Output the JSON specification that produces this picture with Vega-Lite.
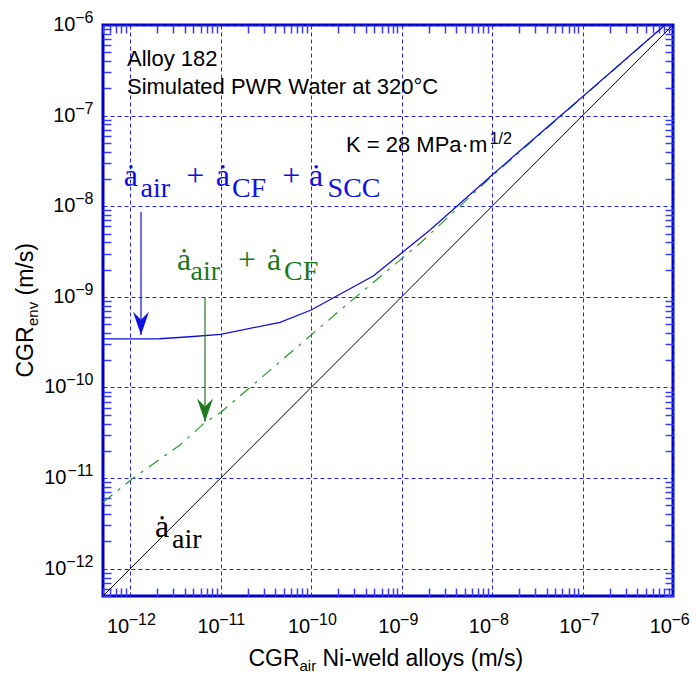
{
  "$schema": "https://vega.github.io/schema/vega-lite/v6.json",
  "width": 570,
  "height": 571,
  "autosize": {"type": "none"},
  "padding": {"left": 103, "top": 25, "right": 23, "bottom": 79},
  "background": "white",
  "config": {
    "view": {"stroke": "#0000cc", "strokeWidth": 3},
    "font": "Liberation Sans",
    "axis": {"labelFont": "Liberation Sans", "titleFont": "Liberation Sans", "labelColor": "black", "titleColor": "black", "titleFontWeight": "normal", "labelOverlap": false, "labelFlush": false, "labelBound": false}
  },
  "datasets": {
    "curves": [
      {"series": "air", "x": 5e-13, "y": 5e-13},
      {"series": "air", "x": 1e-6, "y": 1e-6},
      {"series": "air+CF", "x": 5e-13, "y": 5.4e-12},
      {"series": "air+CF", "x": 1.07e-12, "y": 9.95e-12},
      {"series": "air+CF", "x": 3.55e-12, "y": 2.32e-11},
      {"series": "air+CF", "x": 6.7e-12, "y": 4.1e-11},
      {"series": "air+CF", "x": 1e-11, "y": 5.3e-11},
      {"series": "air+CF", "x": 1e-10, "y": 3.79e-10},
      {"series": "air+CF", "x": 2.47e-10, "y": 8.2e-10},
      {"series": "air+CF", "x": 1.6e-9, "y": 3.9e-9},
      {"series": "air+CF", "x": 1e-8, "y": 2.15e-8},
      {"series": "air+CF", "x": 1e-7, "y": 1.6e-7},
      {"series": "air+CF", "x": 8.16e-7, "y": 1e-6},
      {"series": "air+CF+SCC", "x": 5e-13, "y": 3.43e-10},
      {"series": "air+CF+SCC", "x": 2.1e-12, "y": 3.45e-10},
      {"series": "air+CF+SCC", "x": 4.58e-12, "y": 3.63e-10},
      {"series": "air+CF+SCC", "x": 1e-11, "y": 3.86e-10},
      {"series": "air+CF+SCC", "x": 4.53e-11, "y": 5.24e-10},
      {"series": "air+CF+SCC", "x": 1e-10, "y": 7.16e-10},
      {"series": "air+CF+SCC", "x": 4.86e-10, "y": 1.7e-9},
      {"series": "air+CF+SCC", "x": 2.06e-9, "y": 5.47e-9},
      {"series": "air+CF+SCC", "x": 1e-8, "y": 2.21e-8},
      {"series": "air+CF+SCC", "x": 1e-7, "y": 1.62e-7},
      {"series": "air+CF+SCC", "x": 8.16e-7, "y": 1e-6}
    ],
    "arrows": [
      {"series": "air+CF+SCC", "x": 1.315e-12, "ytop": 8.7e-9, "ytip": 3.8e-10},
      {"series": "air+CF", "x": 6.71e-12, "ytop": 9.8e-10, "ytip": 4.19e-11}
    ],
    "eq": [
      {"series": "air+CF+SCC", "part": "main", "text": "ȧ", "x": 8.5e-13, "y": 1.69e-8},
      {"series": "air+CF+SCC", "part": "sub", "text": "air", "x": 1.3e-12, "y": 1.27e-8},
      {"series": "air+CF+SCC", "part": "main", "text": "+", "x": 4.15e-12, "y": 1.69e-8},
      {"series": "air+CF+SCC", "part": "main", "text": "ȧ", "x": 8.8e-12, "y": 1.69e-8},
      {"series": "air+CF+SCC", "part": "sub", "text": "CF", "x": 1.33e-11, "y": 1.27e-8},
      {"series": "air+CF+SCC", "part": "main", "text": "+", "x": 4.8e-11, "y": 1.69e-8},
      {"series": "air+CF+SCC", "part": "main", "text": "ȧ", "x": 9.45e-11, "y": 1.69e-8},
      {"series": "air+CF+SCC", "part": "sub", "text": "SCC", "x": 1.52e-10, "y": 1.27e-8},
      {"series": "air+CF", "part": "main", "text": "ȧ", "x": 3.28e-12, "y": 1.98e-9},
      {"series": "air+CF", "part": "sub", "text": "air", "x": 4.65e-12, "y": 1.52e-9},
      {"series": "air+CF", "part": "main", "text": "+", "x": 1.55e-11, "y": 1.98e-9},
      {"series": "air+CF", "part": "main", "text": "ȧ", "x": 3.25e-11, "y": 1.98e-9},
      {"series": "air+CF", "part": "sub", "text": "CF", "x": 5.02e-11, "y": 1.52e-9},
      {"series": "air", "part": "main", "text": "ȧ", "x": 1.88e-12, "y": 2.25e-12},
      {"series": "air", "part": "sub", "text": "air", "x": 2.9e-12, "y": 1.68e-12}
    ],
    "notes": [
      {"kind": "main", "text": "Alloy 182", "x": 9.2e-13, "y": 3.56e-7},
      {"kind": "main", "text": "Simulated PWR Water at 320°C", "x": 9.2e-13, "y": 1.73e-7},
      {"kind": "main", "text": "K = 28 MPa·m", "x": 2.43e-10, "y": 4.0e-8},
      {"kind": "sup", "text": "1/2", "x": 9.4e-9, "y": 4.86e-8}
    ]
  },
  "layer": [
    {
      "data": {"name": "curves"},
      "transform": [{"filter": "datum.series == 'air'"}],
      "mark": {"type": "line", "color": "black", "strokeWidth": 1, "clip": true},
      "encoding": {
        "x": {
          "field": "x", "type": "quantitative",
          "scale": {"type": "log", "domain": [5e-13, 1e-6], "nice": false},
          "axis": {
            "orient": "bottom",
            "values": [5e-13,6e-13,7e-13,8e-13,9e-13,1e-12,2e-12,3e-12,4e-12,5e-12,6e-12,7e-12,8e-12,9e-12,1e-11,2e-11,3e-11,4e-11,5e-11,6e-11,7e-11,8e-11,9e-11,1e-10,2e-10,3e-10,4e-10,5e-10,6e-10,7e-10,8e-10,9e-10,1e-9,2e-9,3e-9,4e-9,5e-9,6e-9,7e-9,8e-9,9e-9,1e-8,2e-8,3e-8,4e-8,5e-8,6e-8,7e-8,8e-8,9e-8,1e-7,2e-7,3e-7,4e-7,5e-7,6e-7,7e-7,8e-7,9e-7,1e-6],
            "domain": false,
            "grid": true,
            "gridColor": "#2222ff",
            "gridDash": [4, 3],
            "gridWidth": 1,
            "gridOpacity": {"condition": {"test": "abs(log(datum.value)/LN10 - round(log(datum.value)/LN10)) < 0.01", "value": 1}, "value": 0},
            "tickSize": -8,
            "tickColor": "#3c3cff",
            "tickWidth": 1.5,
            "tickOpacity": {"condition": {"test": "abs(log(datum.value)/LN10 - round(log(datum.value)/LN10)) < 0.01", "value": 0}, "value": 1},
            "labelExpr": "abs(log(datum.value)/LN10 - round(log(datum.value)/LN10)) < 0.01 ? '10' : ''",
            "labelFontSize": 20,
            "labelAlign": "right",
            "labelBaseline": "alphabetic",
            "labelOffset": -1.5,
            "labelPadding": 44,
            "title": "CGR",
            "titleFontSize": 23,
            "titleX": 145,
            "titleY": 69,
            "titleAlign": "left",
            "titleBaseline": "alphabetic",
            "titleAngle": 0
          }
        },
        "y": {
          "field": "y", "type": "quantitative",
          "scale": {"type": "log", "domain": [5e-13, 1e-6], "nice": false},
          "axis": {
            "orient": "left",
            "values": [5e-13,6e-13,7e-13,8e-13,9e-13,1e-12,2e-12,3e-12,4e-12,5e-12,6e-12,7e-12,8e-12,9e-12,1e-11,2e-11,3e-11,4e-11,5e-11,6e-11,7e-11,8e-11,9e-11,1e-10,2e-10,3e-10,4e-10,5e-10,6e-10,7e-10,8e-10,9e-10,1e-9,2e-9,3e-9,4e-9,5e-9,6e-9,7e-9,8e-9,9e-9,1e-8,2e-8,3e-8,4e-8,5e-8,6e-8,7e-8,8e-8,9e-8,1e-7,2e-7,3e-7,4e-7,5e-7,6e-7,7e-7,8e-7,9e-7,1e-6],
            "domain": false,
            "grid": true,
            "gridColor": "#2222ff",
            "gridDash": [4, 3],
            "gridWidth": 1,
            "gridOpacity": {"condition": {"test": "abs(log(datum.value)/LN10 - round(log(datum.value)/LN10)) < 0.01", "value": 1}, "value": 0},
            "tickSize": -8,
            "tickColor": "#3c3cff",
            "tickWidth": 1.5,
            "tickOpacity": {"condition": {"test": "abs(log(datum.value)/LN10 - round(log(datum.value)/LN10)) < 0.01", "value": 0}, "value": 1},
            "labelExpr": "abs(log(datum.value)/LN10 - round(log(datum.value)/LN10)) < 0.01 ? '10' : ''",
            "labelFontSize": 20,
            "labelAlign": "right",
            "labelBaseline": "alphabetic",
            "labelOffset": 5.5,
            "labelPadding": {"condition": {"test": "datum.value < 5e-10", "value": 45}, "value": 36},
            "title": "CGR",
            "titleFontSize": 23,
            "titleX": -71,
            "titleY": 352,
            "titleAlign": "left",
            "titleBaseline": "alphabetic",
            "titleAngle": 270
          }
        }
      }
    },
    {
      "data": {"name": "curves"},
      "transform": [{"filter": "datum.series == 'air+CF'"}],
      "mark": {"type": "line", "color": "#2a9a2a", "strokeWidth": 1.2, "strokeDash": [12, 7, 3, 7], "clip": true},
      "encoding": {
        "x": {
          "field": "x", "type": "quantitative",
          "scale": {"type": "log", "domain": [5e-13, 1e-6], "nice": false},
          "axis": {
            "orient": "top",
            "values": [5e-13,6e-13,7e-13,8e-13,9e-13,1e-12,2e-12,3e-12,4e-12,5e-12,6e-12,7e-12,8e-12,9e-12,1e-11,2e-11,3e-11,4e-11,5e-11,6e-11,7e-11,8e-11,9e-11,1e-10,2e-10,3e-10,4e-10,5e-10,6e-10,7e-10,8e-10,9e-10,1e-9,2e-9,3e-9,4e-9,5e-9,6e-9,7e-9,8e-9,9e-9,1e-8,2e-8,3e-8,4e-8,5e-8,6e-8,7e-8,8e-8,9e-8,1e-7,2e-7,3e-7,4e-7,5e-7,6e-7,7e-7,8e-7,9e-7,1e-6],
            "domain": false, "grid": false, "labels": false, "title": null,
            "tickSize": -8, "tickColor": "#3c3cff", "tickWidth": 1.5,
            "tickOpacity": {"condition": {"test": "abs(log(datum.value)/LN10 - round(log(datum.value)/LN10)) < 0.01", "value": 0}, "value": 1}
          }
        },
        "y": {
          "field": "y", "type": "quantitative",
          "scale": {"type": "log", "domain": [5e-13, 1e-6], "nice": false},
          "axis": {
            "orient": "right",
            "values": [5e-13,6e-13,7e-13,8e-13,9e-13,1e-12,2e-12,3e-12,4e-12,5e-12,6e-12,7e-12,8e-12,9e-12,1e-11,2e-11,3e-11,4e-11,5e-11,6e-11,7e-11,8e-11,9e-11,1e-10,2e-10,3e-10,4e-10,5e-10,6e-10,7e-10,8e-10,9e-10,1e-9,2e-9,3e-9,4e-9,5e-9,6e-9,7e-9,8e-9,9e-9,1e-8,2e-8,3e-8,4e-8,5e-8,6e-8,7e-8,8e-8,9e-8,1e-7,2e-7,3e-7,4e-7,5e-7,6e-7,7e-7,8e-7,9e-7,1e-6],
            "domain": false, "grid": false, "labels": false, "title": null,
            "tickSize": -8, "tickColor": "#3c3cff", "tickWidth": 1.5,
            "tickOpacity": {"condition": {"test": "abs(log(datum.value)/LN10 - round(log(datum.value)/LN10)) < 0.01", "value": 0}, "value": 1}
          }
        }
      }
    },
    {
      "data": {"name": "curves"},
      "transform": [{"filter": "datum.series == 'air+CF+SCC'"}],
      "mark": {"type": "line", "color": "#1010d8", "strokeWidth": 1.3, "clip": true},
      "encoding": {
        "x": {
          "field": "x", "type": "quantitative",
          "scale": {"type": "log", "domain": [5e-13, 1e-6], "nice": false},
          "axis": {
            "orient": "bottom",
            "values": [1e-12, 1e-11, 1e-10, 1e-9, 1e-8, 1e-7, 1e-6],
            "domain": false, "grid": false, "ticks": true, "tickSize": 0, "title": null,
            "labelExpr": "['−12','−11','−10','−9','−8','−7','−6'][round(log(datum.value)/LN10)+12]",
            "labelFontSize": 16,
            "labelAlign": "left",
            "labelBaseline": "alphabetic",
            "labelOffset": -2,
            "labelPadding": 28
          }
        },
        "y": {
          "field": "y", "type": "quantitative",
          "scale": {"type": "log", "domain": [5e-13, 1e-6], "nice": false},
          "axis": {
            "orient": "left",
            "values": [1e-12, 1e-11, 1e-10, 1e-9, 1e-8, 1e-7, 1e-6],
            "domain": false, "grid": false, "ticks": true, "tickSize": 0, "title": null,
            "labelExpr": "['−12','−11','−10','−9','−8','−7','−6'][round(log(datum.value)/LN10)+12]",
            "labelFontSize": 16,
            "labelAlign": "right",
            "labelBaseline": "alphabetic",
            "labelOffset": -2.5,
            "labelPadding": 10
          }
        }
      }
    },
    {
      "data": {"name": "arrows"},
      "mark": {"type": "rule", "strokeWidth": 1.2},
      "encoding": {
        "x": {
          "field": "x", "type": "quantitative",
          "scale": {"type": "log", "domain": [5e-13, 1e-6], "nice": false},
          "axis": {
            "orient": "bottom", "values": [], "domain": false, "grid": false, "ticks": false, "labels": false,
            "title": "air", "titleFontSize": 15, "titleX": 196, "titleY": 74, "titleAlign": "left", "titleBaseline": "alphabetic", "titleAngle": 0
          }
        },
        "y": {
          "field": "ytop", "type": "quantitative",
          "scale": {"type": "log", "domain": [5e-13, 1e-6], "nice": false},
          "axis": {
            "orient": "left", "values": [], "domain": false, "grid": false, "ticks": false, "labels": false,
            "title": "env", "titleFontSize": 15, "titleX": -66, "titleY": 300.5, "titleAlign": "left", "titleBaseline": "alphabetic", "titleAngle": 270
          }
        },
        "y2": {"field": "ytip"},
        "color": {"field": "series", "type": "nominal", "scale": {"domain": ["air", "air+CF", "air+CF+SCC"], "range": ["#000000", "#1c7a1c", "#1010e0"]}, "legend": null}
      }
    },
    {
      "data": {"name": "arrows"},
      "mark": {"type": "point", "filled": true, "opacity": 1, "size": 256, "shape": "M0,0L-1,-2.9L0,-1.9L1,-2.9Z", "strokeWidth": 0},
      "encoding": {
        "x": {
          "field": "x", "type": "quantitative",
          "scale": {"type": "log", "domain": [5e-13, 1e-6], "nice": false},
          "axis": {
            "orient": "bottom", "values": [], "domain": false, "grid": false, "ticks": false, "labels": false,
            "title": "Ni-weld alloys (m/s)", "titleFontSize": 23, "titleX": 219, "titleY": 69, "titleAlign": "left", "titleBaseline": "alphabetic", "titleAngle": 0
          }
        },
        "y": {
          "field": "ytip", "type": "quantitative",
          "scale": {"type": "log", "domain": [5e-13, 1e-6], "nice": false},
          "axis": {
            "orient": "left", "values": [], "domain": false, "grid": false, "ticks": false, "labels": false,
            "title": "(m/s)", "titleFontSize": 23, "titleX": -71, "titleY": 270, "titleAlign": "left", "titleBaseline": "alphabetic", "titleAngle": 270
          }
        },
        "color": {"field": "series", "type": "nominal", "scale": {"domain": ["air", "air+CF", "air+CF+SCC"], "range": ["#000000", "#0d610d", "#0000dd"]}, "legend": null}
      }
    },
    {
      "data": {"name": "eq"},
      "transform": [{"filter": "datum.part == 'main'"}],
      "mark": {"type": "text", "font": "Liberation Serif", "fontSize": 32, "align": "left", "baseline": "alphabetic"},
      "encoding": {
        "x": {"field": "x", "type": "quantitative", "scale": {"type": "log", "domain": [5e-13, 1e-6], "nice": false}, "axis": null},
        "y": {"field": "y", "type": "quantitative", "scale": {"type": "log", "domain": [5e-13, 1e-6], "nice": false}, "axis": null},
        "text": {"field": "text"},
        "color": {"field": "series", "type": "nominal", "scale": {"domain": ["air", "air+CF", "air+CF+SCC"], "range": ["#000000", "#138a13", "#1414f0"]}, "legend": null}
      }
    },
    {
      "data": {"name": "eq"},
      "transform": [{"filter": "datum.part == 'sub'"}],
      "mark": {"type": "text", "font": "Liberation Serif", "fontSize": 28, "align": "left", "baseline": "alphabetic"},
      "encoding": {
        "x": {"field": "x", "type": "quantitative", "scale": {"type": "log", "domain": [5e-13, 1e-6], "nice": false}, "axis": null},
        "y": {"field": "y", "type": "quantitative", "scale": {"type": "log", "domain": [5e-13, 1e-6], "nice": false}, "axis": null},
        "text": {"field": "text"},
        "color": {"field": "series", "type": "nominal", "scale": {"domain": ["air", "air+CF", "air+CF+SCC"], "range": ["#000000", "#138a13", "#1414f0"]}, "legend": null}
      }
    },
    {
      "data": {"name": "notes"},
      "transform": [{"filter": "datum.kind == 'main'"}],
      "mark": {"type": "text", "font": "Liberation Sans", "fontSize": 22, "align": "left", "baseline": "alphabetic", "color": "black"},
      "encoding": {
        "x": {"field": "x", "type": "quantitative", "scale": {"type": "log", "domain": [5e-13, 1e-6], "nice": false}, "axis": null},
        "y": {"field": "y", "type": "quantitative", "scale": {"type": "log", "domain": [5e-13, 1e-6], "nice": false}, "axis": null},
        "text": {"field": "text"}
      }
    },
    {
      "data": {"name": "notes"},
      "transform": [{"filter": "datum.kind == 'sup'"}],
      "mark": {"type": "text", "font": "Liberation Sans", "fontSize": 16, "align": "left", "baseline": "alphabetic", "color": "black"},
      "encoding": {
        "x": {"field": "x", "type": "quantitative", "scale": {"type": "log", "domain": [5e-13, 1e-6], "nice": false}, "axis": null},
        "y": {"field": "y", "type": "quantitative", "scale": {"type": "log", "domain": [5e-13, 1e-6], "nice": false}, "axis": null},
        "text": {"field": "text"}
      }
    }
  ],
  "resolve": {"axis": {"x": "independent", "y": "independent"}}
}
